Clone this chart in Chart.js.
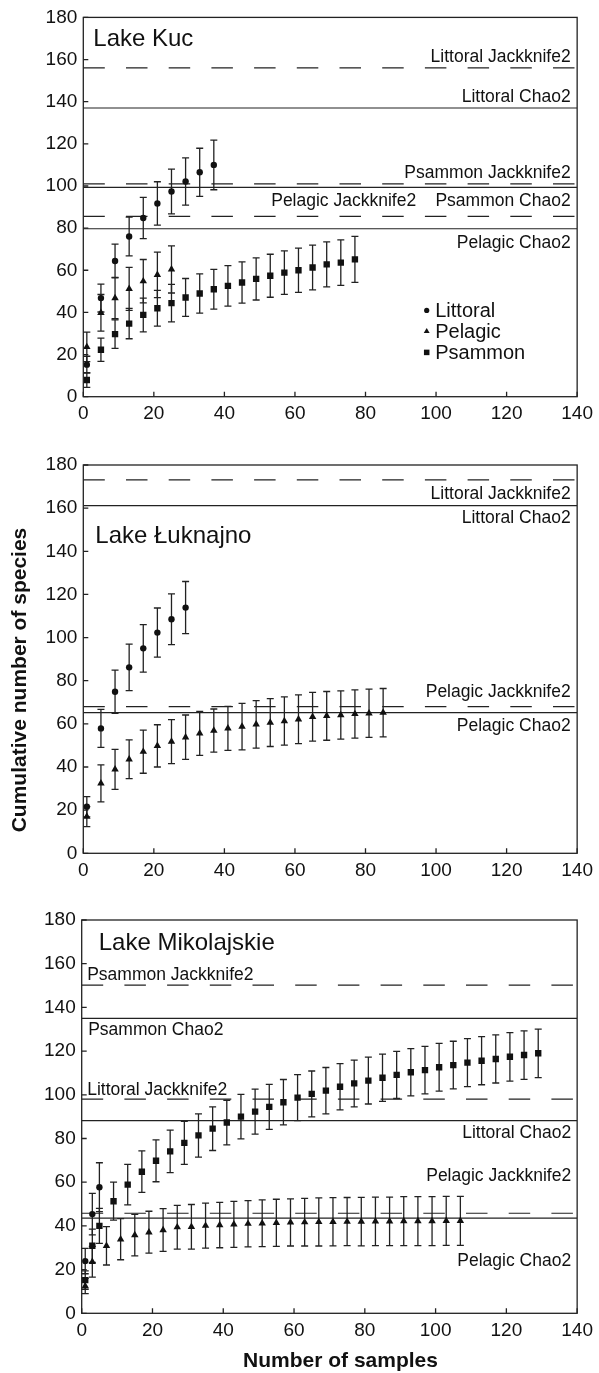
<!DOCTYPE html>
<html>
<head>
<meta charset="utf-8">
<title>Species accumulation curves</title>
<script src="https://cdn.jsdelivr.net/npm/chart.js@4.4.1/dist/chart.umd.min.js"></script>
<style>
  html, body { margin: 0; padding: 0; background: #fff; }
  #page { position: relative; width: 599px; height: 1373px; overflow: hidden; }
  #page canvas { position: absolute; left: 0; }
</style>
</head>
<body>
<div id="page">
  <canvas id="kuc" width="599" height="432" style="top:0"></canvas>
  <canvas id="luknajno" width="599" height="448" style="top:440px"></canvas>
  <canvas id="mikolajskie" width="599" height="485" style="top:888px"></canvas>
</div>
<script>
// ── Data ──────────────────────────────────────────────────────────────────────

const X_MIN = 0, X_MAX = 140, Y_MIN = 0, Y_MAX = 180, TICK_STEP = 20;

// Lake Kuc
const kucLittoralX   = [1, 5, 9, 13, 17, 21, 25, 29, 33, 37];
const kucLittoralY   = [15.2, 46.8, 64.4, 76.0, 84.8, 91.7, 97.4, 102.1, 106.5, 110.0];
const kucLittoralErr = [4.0, 6.6, 8.0, 9.2, 9.8, 10.3, 10.6, 11.2, 11.4, 11.8];

const kucPelagicX   = [1, 5, 9, 13, 17, 21, 25];
const kucPelagicY   = [23.6, 39.8, 46.8, 51.2, 54.8, 57.8, 60.4];
const kucPelagicErr = [7.0, 8.7, 9.8, 10.2, 10.3, 10.8, 11.2];

const kucPsammonX   = [1, 5, 9, 13, 17, 21, 25, 29, 33, 37, 41, 45, 49, 53, 57, 61, 65, 69, 73, 77];
const kucPsammonY   = [7.9, 22.3, 29.7, 34.7, 38.8, 42.0, 44.4, 47.1, 49.0, 51.0,
                       52.6, 54.2, 55.9, 57.4, 58.9, 60.0, 61.3, 62.8, 63.6, 65.2];
const kucPsammonErr = [3.5, 5.5, 6.8, 7.2, 8.0, 8.5, 8.9, 9.0, 9.3, 9.4,
                       9.6, 9.8, 10.0, 10.2, 10.3, 10.5, 10.6, 10.7, 10.8, 10.9];

const kucEstNames  = ["Littoral Jackknife2", "Littoral Chao2", "Psammon Jackknife2",
                      "Psammon Chao2", "Pelagic Jackknife2", "Pelagic Chao2"];
const kucEstValues = [156.0, 137.0, 101.0, 99.3, 85.6, 79.7];

// Lake Łuknajno
const lukLittoralX   = [1, 5, 9, 13, 17, 21, 25, 29];
const lukLittoralY   = [21.6, 57.9, 74.9, 86.2, 95.0, 102.3, 108.5, 113.9];
const lukLittoralErr = [4.7, 8.8, 10.0, 10.8, 11.0, 11.4, 11.8, 12.1];

const lukPelagicX   = [1, 5, 9, 13, 17, 21, 25, 29, 33, 37, 41, 45, 49, 53, 57, 61, 65, 69, 73, 77, 81, 85];
const lukPelagicY   = [17.0, 32.4, 38.9, 43.6, 47.1, 49.8, 51.8, 53.8, 55.6, 56.9, 57.9,
                       58.7, 59.8, 60.6, 61.3, 62.1, 63.3, 63.7, 64.1, 64.6, 64.9, 65.2];
const lukPelagicErr = [4.6, 8.6, 9.3, 9.0, 10.0, 9.8, 10.2, 10.3, 10.2, 10.0, 10.2,
                       10.8, 11.0, 11.1, 11.2, 11.3, 11.3, 11.3, 11.2, 11.2, 11.2, 11.2];

const lukEstNames  = ["Littoral Jackknife2", "Littoral Chao2", "Pelagic Jackknife2", "Pelagic Chao2"];
const lukEstValues = [173.1, 161.2, 68.0, 65.2];

// Lake Mikolajskie
const mikLittoralX   = [1, 3, 5];
const mikLittoralY   = [23.9, 45.4, 57.7];
const mikLittoralErr = [5.8, 9.5, 11.2];

const mikPelagicX   = [1, 3, 7, 11, 15, 19, 23, 27, 31, 35, 39, 43, 47, 51, 55, 59,
                       63, 67, 71, 75, 79, 83, 87, 91, 95, 99, 103, 107];
const mikPelagicY   = [12.5, 23.6, 30.9, 33.9, 35.8, 37.1, 38.1, 39.4, 39.6, 40.1, 40.4, 40.7, 41.0, 41.2,
                       41.4, 41.6, 41.7, 41.8, 41.9, 42.0, 42.0, 42.1, 42.1, 42.2, 42.2, 42.2, 42.3, 42.3];
const mikPelagicErr = [3.5, 7.0, 8.8, 9.4, 9.5, 9.6, 9.8, 10.0, 10.2, 10.3, 10.4, 10.5, 10.6, 10.7,
                       10.8, 10.8, 10.9, 11.0, 11.0, 11.0, 11.1, 11.1, 11.1, 11.2, 11.2, 11.2, 11.2, 11.2];

const mikPsammonX   = [1, 3, 5, 9, 13, 17, 21, 25, 29, 33, 37, 41, 45, 49, 53, 57, 61,
                       65, 69, 73, 77, 81, 85, 89, 93, 97, 101, 105, 109, 113, 117, 121, 125, 129];
const mikPsammonY   = [15.2, 30.9, 40.0, 51.3, 58.9, 64.8, 69.8, 74.1, 78.0, 81.4, 84.5, 87.3,
                       90.0, 92.3, 94.5, 96.6, 98.7, 100.4, 101.9, 103.7, 105.2, 106.5, 107.8,
                       109.1, 110.3, 111.3, 112.6, 113.6, 114.7, 115.6, 116.4, 117.4, 118.2, 119.0];
const mikPsammonErr = [4.2, 7.6, 8.0, 8.7, 9.3, 9.5, 9.6, 9.7, 9.8, 9.9, 10.0, 10.2, 10.2, 10.3,
                       10.3, 10.4, 10.5, 10.5, 10.6, 10.6, 10.7, 10.7, 10.8, 10.8, 10.8, 10.9,
                       10.9, 10.9, 11.0, 11.0, 11.0, 11.1, 11.1, 11.1];

const mikEstNames  = ["Psammon Jackknife2", "Psammon Chao2", "Littoral Jackknife2",
                      "Littoral Chao2", "Pelagic Jackknife2", "Pelagic Chao2"];
const mikEstValues = [150.2, 135.0, 98.0, 88.2, 45.8, 43.6];

// ── Styling ───────────────────────────────────────────────────────────────────

const INK  = "#111";
const LINE = "#222";
const FONT = "'Liberation Sans', Arial, Helvetica, sans-serif";
const MARKER_RADIUS = { circle: 3.2, triangle: 4.3, rect: 4.5 };
const DASH = [21.5, 21.2];

// where each estimator label sits relative to its line (px): edge, dx, baseline dy
const kucLabelPos = [
  { align: "right", dx: -6.5, dy: -6.4 },
  { align: "right", dx: -6.5, dy: -6 },
  { align: "right", dx: -6.5, dy: -6 },
  { align: "right", dx: -6.5, dy: 19 },
  { align: "right", dx: -161, dy: -10 },
  { align: "right", dx: -6.5, dy: 19.3 },
];
const lukLabelPos = [
  { align: "right", dx: -6.5, dy: 19.3 },
  { align: "right", dx: -6.5, dy: 17.6 },
  { align: "right", dx: -6.5, dy: -9.5 },
  { align: "right", dx: -6.5, dy: 18 },
];
const mikLabelPos = [
  { align: "left",  dx: 5.5, dy: -5 },
  { align: "left",  dx: 6.5, dy: 16.7 },
  { align: "left",  dx: 5.5, dy: -4 },
  { align: "right", dx: -6, dy: 17.6 },
  { align: "right", dx: -6, dy: -32 },
  { align: "right", dx: -6, dy: 48 },
];

Chart.defaults.font.family = FONT;
Chart.defaults.color = INK;

// ── Dataset builders ──────────────────────────────────────────────────────────

function toPoints(xs, ys) {
  return xs.map((x, i) => ({ x, y: ys[i] }));
}

function seriesSet(name, xs, ys, errs, style) {
  return {
    type: "scatter",
    label: name,
    data: toPoints(xs, ys),
    errors: errs,
    pointStyle: style,
    pointRadius: MARKER_RADIUS[style],
    pointHoverRadius: MARKER_RADIUS[style],
    backgroundColor: INK,
    borderColor: INK,
    borderWidth: 0,
    order: 0,
  };
}

function estimateSets(names, values, labelPos) {
  return names.map((name, i) => ({
    type: "line",
    label: name,
    data: [{ x: X_MIN, y: values[i] }, { x: X_MAX, y: values[i] }],
    borderColor: LINE,
    borderWidth: 1.2,
    borderDash: /Jackknife/.test(name) ? DASH : [],
    pointRadius: 0,
    pointHoverRadius: 0,
    fill: false,
    estLabel: labelPos[i],
    order: 1,
  }));
}

// ── Decorations plugin: error bars, frame, inward ticks, texts, legend ───────

function drawMarker(ctx, style, x, y, r) {
  ctx.beginPath();
  if (style === "circle") {
    ctx.arc(x, y, r, 0, Math.PI * 2);
  } else if (style === "triangle") {
    for (let k = 0; k < 3; k++) {
      const a = k * 2 * Math.PI / 3;
      const px = x + Math.sin(a) * r, py = y - Math.cos(a) * r;
      if (k === 0) ctx.moveTo(px, py); else ctx.lineTo(px, py);
    }
    ctx.closePath();
  } else {
    const s = r * Math.SQRT1_2;
    ctx.rect(x - s, y - s, 2 * s, 2 * s);
  }
  ctx.fill();
}

const decoPlugin = {
  id: "deco",

  beforeDatasetsDraw(chart) {
    const { ctx, scales: { x, y } } = chart;
    ctx.save();
    ctx.strokeStyle = LINE;
    ctx.lineWidth = 1.3;
    chart.data.datasets.forEach((ds) => {
      if (!ds.errors) return;
      ds.data.forEach((p, i) => {
        const px = x.getPixelForValue(p.x);
        const top = y.getPixelForValue(p.y + ds.errors[i]);
        const bot = y.getPixelForValue(p.y - ds.errors[i]);
        ctx.beginPath();
        ctx.moveTo(px, top); ctx.lineTo(px, bot);
        ctx.moveTo(px - 3.5, top); ctx.lineTo(px + 3.5, top);
        ctx.moveTo(px - 3.5, bot); ctx.lineTo(px + 3.5, bot);
        ctx.stroke();
      });
    });
    ctx.restore();
  },

  afterDatasetsDraw(chart, args, opts) {
    const { ctx, chartArea: a, scales: { x, y } } = chart;
    ctx.save();

    // frame + inward ticks
    ctx.strokeStyle = LINE;
    ctx.lineWidth = 1.3;
    ctx.strokeRect(a.left, a.top, a.right - a.left, a.bottom - a.top);
    ctx.beginPath();
    x.ticks.forEach((t) => {
      const px = x.getPixelForValue(t.value);
      ctx.moveTo(px, a.bottom); ctx.lineTo(px, a.bottom - 5);
    });
    y.ticks.forEach((t) => {
      const py = y.getPixelForValue(t.value);
      ctx.moveTo(a.left, py); ctx.lineTo(a.left + 5, py);
    });
    ctx.stroke();

    ctx.fillStyle = INK;
    ctx.textBaseline = "alphabetic";

    // estimator labels
    ctx.font = `17.5px ${FONT}`;
    chart.data.datasets.forEach((ds) => {
      if (!ds.estLabel) return;
      const pos = ds.estLabel;
      const py = y.getPixelForValue(ds.data[0].y) + pos.dy;
      ctx.textAlign = pos.align;
      ctx.fillText(ds.label, (pos.align === "right" ? a.right : a.left) + pos.dx, py);
    });

    // lake name
    if (opts.title) {
      ctx.font = `24px ${FONT}`;
      ctx.textAlign = "left";
      ctx.fillText(opts.title.text, a.left + opts.title.dx, a.top + opts.title.dy);
    }

    // legend
    if (opts.legend) {
      ctx.font = `20px ${FONT}`;
      ctx.textAlign = "left";
      ctx.textBaseline = "middle";
      const series = chart.data.datasets.filter((ds) => ds.errors);
      series.forEach((ds, i) => {
        const lx = a.left + opts.legend.dx;
        const ly = a.top + opts.legend.dy + i * opts.legend.gap;
        drawMarker(ctx, ds.pointStyle, lx, ly, opts.legend.radius[ds.pointStyle]);
        ctx.fillText(ds.label, lx + 8.5, ly + 1);
      });
      ctx.textBaseline = "alphabetic";
    }

    // axis titles
    ctx.font = `bold 21px ${FONT}`;
    if (opts.yTitle) {
      ctx.save();
      ctx.translate(opts.yTitle.x, opts.yTitle.y);
      ctx.rotate(-Math.PI / 2);
      ctx.textAlign = "center";
      ctx.fillText(opts.yTitle.text, 0, 0);
      ctx.restore();
    }
    if (opts.xTitle) {
      ctx.textAlign = "center";
      ctx.fillText(opts.xTitle.text, opts.xTitle.x, opts.xTitle.y);
    }

    ctx.restore();
  },
};

// ── Panel factory ─────────────────────────────────────────────────────────────

function makePanel(canvasId, datasets, box, deco) {
  const tickFont = { size: 19 };
  return new Chart(document.getElementById(canvasId), {
    type: "scatter",
    data: { datasets },
    options: {
      responsive: false,
      animation: false,
      layout: { padding: { left: 0, top: box.top, right: box.right, bottom: 0 } },
      plugins: {
        legend: { display: false },
        tooltip: { enabled: false },
        deco,
      },
      scales: {
        x: {
          type: "linear",
          min: X_MIN,
          max: X_MAX,
          ticks: { stepSize: TICK_STEP, padding: 6, maxRotation: 0, autoSkip: false, color: INK, font: tickFont },
          grid: { display: false, drawTicks: false },
          border: { display: false },
          afterFit: (s) => { s.height = box.xHeight; },
        },
        y: {
          min: Y_MIN,
          max: Y_MAX,
          ticks: { stepSize: TICK_STEP, padding: 6, color: INK, font: tickFont },
          grid: { display: false, drawTicks: false },
          border: { display: false },
          afterFit: (s) => { s.width = box.yWidth; },
        },
      },
    },
    plugins: [decoPlugin],
  });
}

makePanel("kuc", [
  seriesSet("Littoral", kucLittoralX, kucLittoralY, kucLittoralErr, "circle"),
  seriesSet("Pelagic", kucPelagicX, kucPelagicY, kucPelagicErr, "triangle"),
  seriesSet("Psammon", kucPsammonX, kucPsammonY, kucPsammonErr, "rect"),
  ...estimateSets(kucEstNames, kucEstValues, kucLabelPos),
], { top: 15, right: 16.3, xHeight: 35.3, yWidth: 83.3 }, {
  title: { text: "Lake Kuc", dx: 10, dy: 29 },
  legend: { dx: 343.4, dy: 293, gap: 21, radius: { circle: 2.6, triangle: 3.4, rect: 3.9 } },
});

makePanel("luknajno", [
  seriesSet("Littoral", lukLittoralX, lukLittoralY, lukLittoralErr, "circle"),
  seriesSet("Pelagic", lukPelagicX, lukPelagicY, lukPelagicErr, "triangle"),
  ...estimateSets(lukEstNames, lukEstValues, lukLabelPos),
], { top: 25, right: 17.3, xHeight: 34.7, yWidth: 83.3 }, {
  title: { text: "Lake Łuknajno", dx: 12, dy: 78 },
  yTitle: { text: "Cumulative number of species", x: 25.5, y: 240 },
});

makePanel("mikolajskie", [
  seriesSet("Littoral", mikLittoralX, mikLittoralY, mikLittoralErr, "circle"),
  seriesSet("Pelagic", mikPelagicX, mikPelagicY, mikPelagicErr, "triangle"),
  seriesSet("Psammon", mikPsammonX, mikPsammonY, mikPsammonErr, "rect"),
  ...estimateSets(mikEstNames, mikEstValues, mikLabelPos),
], { top: 32, right: 16.3, xHeight: 59.7, yWidth: 81.7 }, {
  title: { text: "Lake Mikolajskie", dx: 17, dy: 30 },
  xTitle: { text: "Number of samples", x: 340.5, y: 479 },
});
</script>
</body>
</html>
